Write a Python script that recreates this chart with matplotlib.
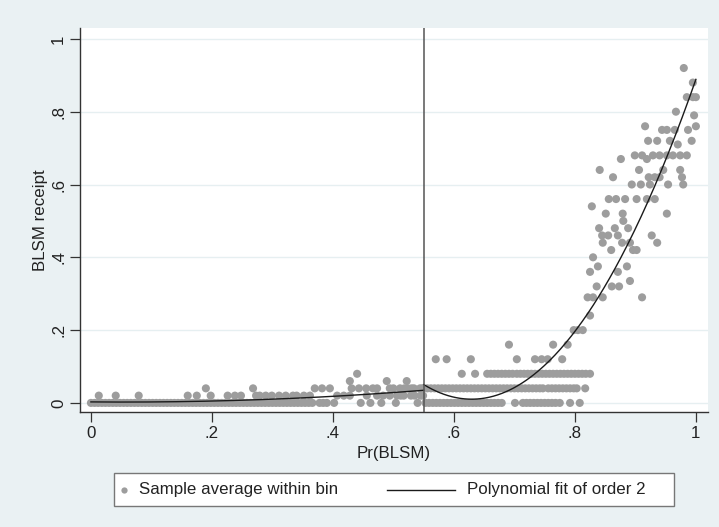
import numpy as np
import matplotlib
matplotlib.use("Agg")
import matplotlib.pyplot as plt
from matplotlib.lines import Line2D
from matplotlib.patches import Rectangle

plt.rcParams['font.family'] = ['Liberation Sans', 'DejaVu Sans']

cutoff = 0.55

# ---- left of cutoff: bin averages, grouped by value ----
left_x_0 = [0.000, 0.006, 0.012, 0.018, 0.024, 0.030, 0.036, 0.042, 0.048, 0.054,
            0.060, 0.066, 0.072, 0.078, 0.084, 0.090, 0.096, 0.102, 0.108, 0.114,
            0.120, 0.126, 0.132, 0.138, 0.144, 0.150, 0.156, 0.162, 0.168, 0.174,
            0.180, 0.186, 0.192, 0.198, 0.204, 0.210, 0.216, 0.222, 0.228, 0.234,
            0.240, 0.246, 0.252, 0.258, 0.264, 0.270, 0.276, 0.282, 0.288, 0.294,
            0.300, 0.306, 0.312, 0.318, 0.324, 0.330, 0.336, 0.342, 0.348, 0.354,
            0.360, 0.366, 0.378, 0.384, 0.390, 0.402, 0.446, 0.462, 0.480, 0.504,
            0.540]
left_x_02 = [0.013, 0.041, 0.079, 0.160, 0.175, 0.198, 0.226, 0.238, 0.248, 0.273,
             0.279, 0.289, 0.299, 0.311, 0.322, 0.334, 0.340, 0.352, 0.362, 0.407,
             0.418, 0.428, 0.456, 0.473, 0.483, 0.494, 0.506, 0.512, 0.517, 0.529,
             0.535, 0.545, 0.549]
left_x_04 = [0.190, 0.268, 0.370, 0.382, 0.395, 0.431, 0.443, 0.455, 0.466, 0.473,
             0.494, 0.500, 0.511, 0.518, 0.524, 0.530, 0.534, 0.544, 0.548]
left_x_06 = [0.428, 0.489, 0.522]
left_x_08 = [0.440]

# ---- right of cutoff ----
right_x_0 = [0.553, 0.559, 0.565, 0.571, 0.577, 0.583, 0.589, 0.595, 0.601, 0.607,
             0.613, 0.619, 0.625, 0.631, 0.637, 0.643, 0.649, 0.655, 0.661, 0.667,
             0.673, 0.679, 0.701, 0.714, 0.720, 0.726, 0.732, 0.738, 0.744, 0.750,
             0.756, 0.762, 0.768, 0.775, 0.792, 0.808]
right_x_04 = [0.556, 0.562, 0.568, 0.574, 0.580, 0.586, 0.592, 0.598, 0.604, 0.610,
              0.616, 0.622, 0.628, 0.634, 0.640, 0.646, 0.652, 0.658, 0.664, 0.670,
              0.676, 0.682, 0.688, 0.694, 0.700, 0.706, 0.712, 0.718, 0.724, 0.730,
              0.736, 0.742, 0.747, 0.756, 0.762, 0.768, 0.774, 0.780, 0.786, 0.792,
              0.798, 0.803, 0.817]
right_x_08 = [0.613, 0.635, 0.655, 0.661, 0.667, 0.673, 0.679, 0.685, 0.691, 0.697,
              0.704, 0.710, 0.716, 0.722, 0.728, 0.734, 0.740, 0.746, 0.752, 0.758,
              0.764, 0.770, 0.776, 0.782, 0.788, 0.794, 0.800, 0.806, 0.812, 0.818,
              0.825]
right_x_12 = [0.570, 0.588, 0.628, 0.704, 0.734, 0.745, 0.755, 0.779]
right_x_16 = [0.691, 0.764, 0.788]

# upper part of the right side (x, value)
upper_x = [0.798, 0.805, 0.813, 0.825,
           0.821, 0.830, 0.846, 0.911,
           0.836, 0.861, 0.873, 0.891,
           0.825, 0.871, 0.838, 0.886,
           0.830,
           0.860, 0.896, 0.902,
           0.846, 0.878, 0.891, 0.936,
           0.845, 0.855, 0.871, 0.927,
           0.840, 0.866, 0.888,
           0.880,
           0.851, 0.879, 0.952,
           0.828,
           0.856, 0.868, 0.883, 0.902, 0.919, 0.932,
           0.894, 0.909, 0.924, 0.954, 0.979,
           0.863, 0.922, 0.932, 0.940, 0.977,
           0.841, 0.906, 0.946, 0.974,
           0.876,
           0.899, 0.911, 0.919, 0.929, 0.940, 0.952, 0.962, 0.974, 0.985,
           0.921, 0.936, 0.957, 0.970, 0.993,
           0.916, 0.944, 0.952, 0.965, 0.987, 1.000,
           0.967, 0.997,
           0.985, 0.995, 1.000,
           0.995,
           0.980]
upper_y = [0.20, 0.20, 0.20, 0.24,
           0.29, 0.29, 0.29, 0.29,
           0.32, 0.32, 0.32, 0.335,
           0.36, 0.36, 0.375, 0.375,
           0.40,
           0.42, 0.42, 0.42,
           0.44, 0.44, 0.44, 0.44,
           0.46, 0.46, 0.46, 0.46,
           0.48, 0.48, 0.48,
           0.50,
           0.52, 0.52, 0.52,
           0.54,
           0.56, 0.56, 0.56, 0.56, 0.56, 0.56,
           0.60, 0.60, 0.60, 0.60, 0.60,
           0.62, 0.62, 0.62, 0.62, 0.62,
           0.64, 0.64, 0.64, 0.64,
           0.67,
           0.68, 0.68, 0.67, 0.68, 0.68, 0.68, 0.68, 0.68, 0.68,
           0.72, 0.72, 0.72, 0.71, 0.72,
           0.76, 0.75, 0.75, 0.75, 0.75, 0.76,
           0.80, 0.79,
           0.84, 0.84, 0.84,
           0.88,
           0.92]

tick_vals = [0, 0.2, 0.4, 0.6, 0.8, 1.0]
tick_labels = ['0', '.2', '.4', '.6', '.8', '1']
legend_labels = ['Sample average within bin', 'Polynomial fit of order 2']

# assemble
lx = np.array(left_x_0 + left_x_02 + left_x_04 + left_x_06 + left_x_08)
ly = np.array([0.0] * len(left_x_0) + [0.02] * len(left_x_02) + [0.04] * len(left_x_04)
              + [0.06] * len(left_x_06) + [0.08] * len(left_x_08))
rx = np.array(right_x_0 + right_x_04 + right_x_08 + right_x_12 + right_x_16 + upper_x)
ry = np.array([0.0] * len(right_x_0) + [0.04] * len(right_x_04) + [0.08] * len(right_x_08)
              + [0.12] * len(right_x_12) + [0.16] * len(right_x_16) + upper_y)

# quadratic fits on each side
cl = np.polyfit(lx, ly, 2)
cr = np.polyfit(rx, ry, 2)
gl = np.linspace(0.0, cutoff, 200)
gr = np.linspace(cutoff, 1.0, 200)

FS = 12.2
bg = '#eaf1f3'
pc = '#9d9d9d'
lc = '#1a1a1a'
tc = '#222222'

fig = plt.figure(figsize=(7.19, 5.27), dpi=100, facecolor=bg)
ax = fig.add_axes([0.1113, 0.2182, 0.8734, 0.7287])
ax.set_facecolor('white')

ax.scatter(np.concatenate([lx, rx]), np.concatenate([ly, ry]), s=34, color=pc,
           edgecolors='none', zorder=3)
ax.plot(gl, np.polyval(cl, gl), color=lc, lw=1.0, zorder=4)
ax.plot(gr, np.polyval(cr, gr), color=lc, lw=1.0, zorder=4)
ax.axvline(cutoff, color='#555555', lw=1.1, zorder=5)

ax.set_xlim(-0.018, 1.02)
ax.set_ylim(-0.025, 1.03)

ax.set_xticks(tick_vals)
ax.set_xticklabels(tick_labels)
ax.set_yticks(tick_vals)
ax.set_yticklabels(tick_labels, rotation=90, va='center')
ax.grid(axis='y', color='#e6eff1', lw=1.0, zorder=0)
ax.set_axisbelow(True)
for s in ['top', 'right']:
    ax.spines[s].set_visible(False)
for s in ['left', 'bottom']:
    ax.spines[s].set_color('#333333')
    ax.spines[s].set_linewidth(1.0)
ax.tick_params(axis='both', length=7, width=0.9, color='#333333', labelsize=FS,
               labelcolor=tc, pad=3)

ax.set_xlabel('Pr(BLSM)', fontsize=FS, color=tc, labelpad=4)
ax.set_ylabel('BLSM receipt', fontsize=FS, color=tc, labelpad=2)

# legend box (drawn in figure pixel-fraction coordinates)
W, H = 719.0, 527.0
fig.patches.append(Rectangle((114 / W, 1 - 506 / H), 560 / W, 33 / H,
                             transform=fig.transFigure, facecolor='white',
                             edgecolor='#777777', lw=1.0, zorder=1))
ymid = 1 - 489.5 / H
fig.lines.append(Line2D([124 / W], [ymid], marker='o', ls='none', color=pc,
                        markersize=4.5, markeredgewidth=0,
                        transform=fig.transFigure, zorder=2))
fig.text(139 / W, ymid, legend_labels[0], fontsize=FS, color=tc,
         va='center', ha='left')
fig.lines.append(Line2D([387 / W, 455 / W], [ymid, ymid], color=lc, lw=1.0,
                        transform=fig.transFigure, zorder=2))
fig.text(467 / W, ymid, legend_labels[1], fontsize=FS, color=tc,
         va='center', ha='left')

fig.savefig('out.png', dpi=100, facecolor=bg)
